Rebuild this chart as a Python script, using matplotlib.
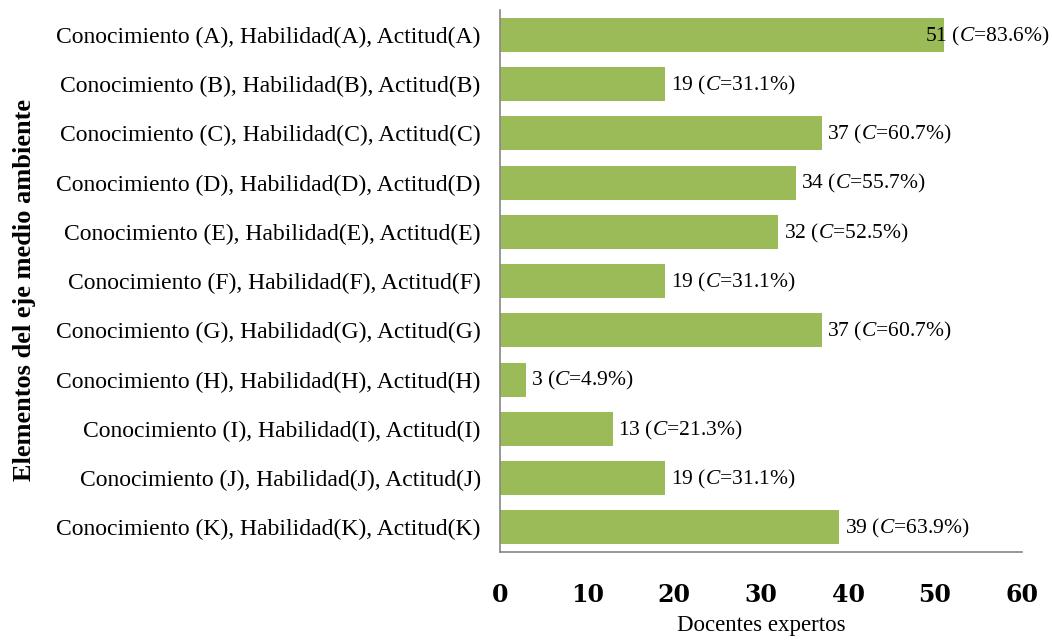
import matplotlib
matplotlib.use('Agg')
import matplotlib.pyplot as plt

plt.rcParams['font.family'] = 'Liberation Serif'
plt.rcParams['mathtext.fontset'] = 'custom'
plt.rcParams['mathtext.it'] = 'Liberation Serif:italic'
plt.rcParams['mathtext.rm'] = 'Liberation Serif'

letras = ['A', 'B', 'C', 'D', 'E', 'F', 'G', 'H', 'I', 'J', 'K']
categorias = ['Conocimiento (%s), Habilidad(%s), Actitud(%s)' % (l, l, l) for l in letras]
docentes = [51, 19, 37, 34, 32, 19, 37, 3, 13, 19, 39]
porcentajes = ['83.6', '31.1', '60.7', '55.7', '52.5', '31.1', '60.7', '4.9', '21.3', '31.1', '63.9']

fig = plt.figure(figsize=(10.53, 6.4), dpi=100)
ax = fig.add_axes([0.475, 0.1375, 0.4955, 0.8465])

pos = list(range(len(categorias)))[::-1]
ax.barh(pos, docentes, height=0.69, color='#9BBB59')

# etiquetas de valor
for y, v, p in zip(pos, docentes, porcentajes):
    x = min(v + 0.6, 48.8)
    ax.text(x, y + 0.04, '%d ($\\mathit{C}$=%s%%)' % (v, p), va='center_baseline', ha='left', fontsize=15.5)

ax.set_xlim(0, 60)
ax.set_ylim(-0.5, len(categorias) - 0.5)
ax.set_yticks(pos)
ax.set_yticklabels(categorias, fontsize=17)
ax.set_xticks([0, 10, 20, 30, 40, 50, 60])
ax.tick_params(axis='x', length=0, pad=22)
ax.tick_params(axis='y', length=0, pad=14)
for t in ax.get_xticklabels():
    t.set_fontweight('bold')
    t.set_family('DejaVu Serif')
    t.set_fontsize(17)

for s in ['top', 'right']:
    ax.spines[s].set_visible(False)
ax.spines['left'].set_color('#868686')
ax.spines['bottom'].set_color('#868686')
ax.spines['left'].set_linewidth(1.2)
ax.spines['bottom'].set_linewidth(1.2)

ax.set_xlabel('Docentes expertos', fontsize=16.5, labelpad=6)
ax.set_ylabel('Elementos del eje medio ambiente', fontsize=19, fontweight='bold')
ax.yaxis.set_label_coords(-0.89, 0.483)

fig.savefig('out.png', dpi=100)
